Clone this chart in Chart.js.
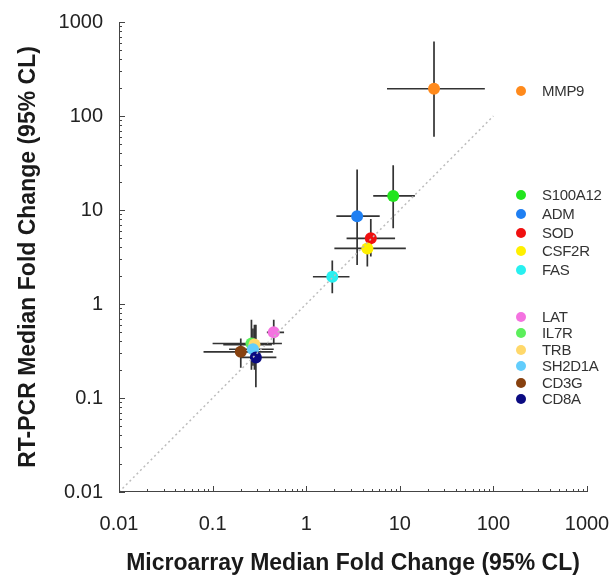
<!DOCTYPE html>
<html><head><meta charset="utf-8">
<script src="https://cdn.jsdelivr.net/npm/chart.js@4/dist/chart.umd.min.js"></script>
<style>
html,body{margin:0;padding:0;background:#fff;}
#wrap{position:relative;width:615px;height:577px;}
#legend{position:absolute;left:0;top:0;width:615px;height:577px;pointer-events:none;font-family:"Liberation Sans",Arial,Helvetica,sans-serif;font-size:15px;color:#333;letter-spacing:-0.3px;}
.item{position:absolute;white-space:nowrap;line-height:16px;}
.dot{position:absolute;width:10px;height:10px;border-radius:50%;}
</style>
</head><body>
<div id="wrap">
<canvas id="c" width="615" height="577"></canvas>
<div id="legend"></div>
</div>
<script>
// ---- data ----
const genes = ['MMP9','S100A12','ADM','SOD','CSF2R','FAS','LAT','IL7R','TRB','SH2D1A','CD3G','CD8A'];
const legendGroup = [0,1,1,1,1,1,2,2,2,2,2,2];
const microMedian = [23.2, 8.5, 3.5, 4.9, 4.5, 1.9, 0.45, 0.26, 0.28, 0.27, 0.20, 0.29];
const microLow    = [7.3, 5.2, 2.1, 2.7, 2.0, 1.18, 0.38, 0.10, 0.13, 0.15, 0.08, 0.20];
const microHigh   = [81, 14.5, 6.1, 8.9, 11.6, 2.9, 0.58, 0.55, 0.43, 0.45, 0.44, 0.48];
const pcrMedian   = [195, 14.1, 8.6, 5.0, 3.9, 1.95, 0.50, 0.38, 0.37, 0.33, 0.31, 0.27];
const pcrLow      = [60, 6.4, 2.6, 3.2, 2.5, 1.3, 0.37, 0.20, 0.20, 0.22, 0.21, 0.13];
const pcrHigh     = [620, 30, 27, 8.0, 5.4, 2.9, 0.68, 0.68, 0.60, 0.55, 0.43, 0.60];
const identityX = [0.01, 100];
const identityY = [0.01, 100];
const tickValues = [0.01, 0.1, 1, 10, 100, 1000];
const tickLabels = ['0.01', '0.1', '1', '10', '100', '1000'];

const colors = ['#ff8a1c','#22e51e','#1f7ff2','#f01010','#fff000','#28f0f0','#f472e0','#5cef5c','#ffd86a','#62cdfc','#87410f','#0b0b82'];

// ---- legend (HTML) ----
const groupTop = [91, 195, 317];
const groupPitch = [18.8, 18.75, 16.4];
const leg = document.getElementById('legend');
const countInGroup = [0,0,0];
genes.forEach((g,i)=>{
  const gi = legendGroup[i];
  const cy = groupTop[gi] + groupPitch[gi]*countInGroup[gi]++;
  const d = document.createElement('div');
  d.className='dot'; d.style.background=colors[i];
  d.style.left=(521-5)+'px'; d.style.top=(cy-5)+'px';
  leg.appendChild(d);
  const t = document.createElement('div');
  t.className='item'; t.textContent=g;
  t.style.left='542px'; t.style.top=(cy-8)+'px';
  leg.appendChild(t);
});

// ---- plugins ----
const errorBars = {
  id:'errorBars',
  beforeDatasetDraw(chart, args){
    if(args.index!==1) return;
    const {ctx, scales:{x,y}} = chart;
    ctx.save();
    ctx.strokeStyle='#333'; ctx.lineWidth=1.7;
    for(let i=0;i<genes.length;i++){
      const px=x.getPixelForValue(microMedian[i]), py=y.getPixelForValue(pcrMedian[i]);
      ctx.beginPath();
      ctx.moveTo(x.getPixelForValue(microLow[i]), py);
      ctx.lineTo(x.getPixelForValue(microHigh[i]), py);
      ctx.moveTo(px, y.getPixelForValue(pcrLow[i]));
      ctx.lineTo(px, y.getPixelForValue(pcrHigh[i]));
      ctx.stroke();
    }
    ctx.restore();
  }
};
const axisTicks = {
  id:'axisTicks',
  afterDraw(chart){
    const {ctx, chartArea:a, scales:{x,y}} = chart;
    ctx.save(); ctx.strokeStyle='#444'; ctx.lineWidth=1;
    ctx.beginPath();
    ctx.moveTo(a.left+0.5, a.top); ctx.lineTo(a.left+0.5, a.bottom-0.5); ctx.lineTo(a.right, a.bottom-0.5);
    for(let e=-2;e<=3;e++){
      for(let m=1;m<=9;m++){
        const v=m*Math.pow(10,e); if(v>1000.001) break;
        const len = m===1?6:3;
        const px=Math.round(x.getPixelForValue(v))+0.5;
        ctx.moveTo(px,a.bottom); ctx.lineTo(px,a.bottom-len);
        const py=Math.round(y.getPixelForValue(v))+0.5;
        ctx.moveTo(a.left,py); ctx.lineTo(a.left+len,py);
      }
    }
    ctx.stroke(); ctx.restore();
  }
};

const tickFont = {family:'"Liberation Sans", Arial, sans-serif', size:20};
const titleFont = {family:'"Liberation Sans", Arial, sans-serif', size:23, weight:'bold'};
const hiddenGrid = (len)=>({display:true, drawOnChartArea:false, drawTicks:true, tickLength:len, color:'rgba(0,0,0,0)', tickColor:'rgba(0,0,0,0)'});

new Chart(document.getElementById('c'), {
  type:'scatter',
  data:{
    datasets:[
      {
        data: identityX.map((v,i)=>({x:v, y:identityY[i]})),
        showLine:true, borderColor:'#bdbdbd', borderWidth:1.5, borderDash:[2,3],
        pointRadius:0, fill:false
      },
      {
        data: genes.map((g,i)=>({x:microMedian[i], y:pcrMedian[i]})),
        pointRadius:6, pointHoverRadius:6, borderWidth:0,
        backgroundColor: colors, pointBackgroundColor: colors, pointBorderWidth:0
      }
    ]
  },
  options:{
    responsive:false, animation:false,
    layout:{padding:{left:15, right:28, top:22, bottom:0}},
    plugins:{legend:{display:false}, tooltip:{enabled:false}},
    scales:{
      x:{
        type:'logarithmic', min:0.01, max:1000,
        afterBuildTicks(s){ s.ticks = tickValues.map(v=>({value:v})); },
        afterFit(s){ s.height = 85; },
        grid:hiddenGrid(17), border:{display:false},
        ticks:{autoSkip:false, maxRotation:0, padding:3, color:'#222', font:tickFont,
          callback:(v,i)=>tickLabels[i]},
        title:{display:true, text:'Microarray Median Fold Change (95% CL)', color:'#1a1a1a', font:titleFont, padding:{top:0,bottom:0}}
      },
      y:{
        type:'logarithmic', min:0.01, max:1000,
        afterBuildTicks(s){ s.ticks = tickValues.map(v=>({value:v})); },
        afterFit(s){ s.width = 104; },
        grid:hiddenGrid(13), border:{display:false},
        ticks:{autoSkip:false, padding:3, color:'#222', font:tickFont,
          callback:(v,i)=>tickLabels[i]},
        title:{display:true, text:'RT-PCR Median Fold Change (95% CL)', color:'#1a1a1a', font:titleFont, padding:{top:0,bottom:0}}
      }
    }
  },
  plugins:[errorBars, axisTicks]
});
</script>
</body></html>
